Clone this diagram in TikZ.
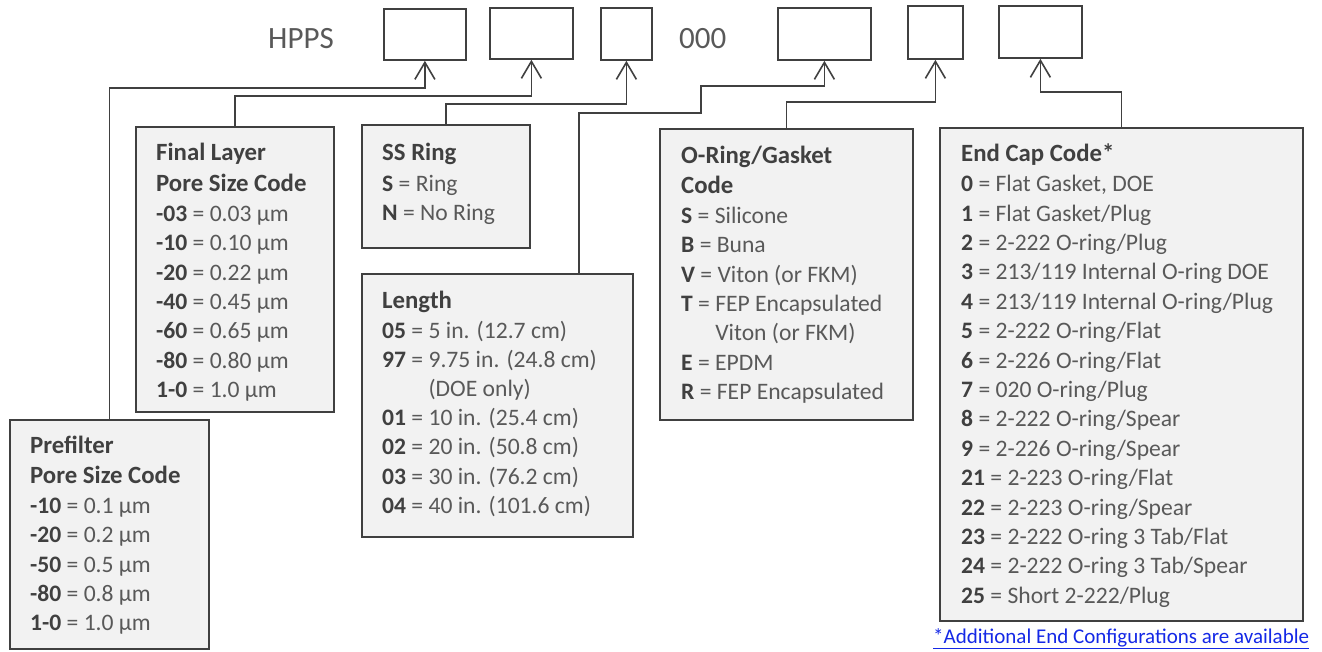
\documentclass[tikz,border=0pt]{standalone}
\usepackage{fontspec}
\setmainfont{Carlito}
\usetikzlibrary{arrows.meta}
\definecolor{linec}{HTML}{404040}
\definecolor{fillc}{HTML}{F2F2F2}
\definecolor{txtc}{HTML}{595959}
\definecolor{codec}{HTML}{404040}
\definecolor{linkc}{RGB}{20,40,230}
\newcommand\ttl[1]{{\fontsize{24.8}{29.4}\selectfont\bfseries\color{codec}#1}}
\newcommand\cd[1]{{\bfseries\color{codec}#1}}
\newcommand\bodyfont{\fontsize{23.6}{29.4}\selectfont}
\begin{document}
\begin{tikzpicture}[x=1pt,y=-1pt,
  codebox/.style={draw=linec, line width=1.8pt, fill=white, inner sep=0pt, anchor=north west},
  infobox/.style={draw=linec, line width=1.6pt, fill=fillc, inner sep=0pt, anchor=north west},
  txt/.style={inner sep=0pt, anchor=base west, text=txtc, font=\bodyfont},
  big/.style={inner sep=0pt, anchor=base west, text=txtc, font=\fontsize{31}{36}\selectfont},
  conn/.style={draw=linec, line width=1.6pt, -{Straight Barb[length=17pt,width=20pt]}}]
\useasboundingbox (0,0) rectangle (1322,651);

% code line
\node[big] (hpps) at (268,48) {HPPS};
\node[big] (zeros) at (679,48) {000};
\node[codebox, minimum width=82, minimum height=51] (b1) at (383,8) {};
\node[codebox, minimum width=83, minimum height=51] (b2) at (489,7) {};
\node[codebox, minimum width=51, minimum height=52] (b3) at (600,7) {};
\node[codebox, minimum width=93, minimum height=52] (b4) at (777,7) {};
\node[codebox, minimum width=55, minimum height=53] (b5) at (907,5) {};
\node[codebox, minimum width=83, minimum height=52] (b6) at (998,5) {};

% info boxes
\node[infobox, minimum width=199, minimum height=229] (pre) at (9,419) {};
\node[infobox, minimum width=198, minimum height=285] (fin) at (135,126) {};
\node[infobox, minimum width=168, minimum height=123] (ss) at (361,124) {};
\node[infobox, minimum width=271, minimum height=263] (len) at (361,273) {};
\node[infobox, minimum width=253, minimum height=291] (oring) at (659,128) {};
\node[infobox, minimum width=363, minimum height=493] (endc) at (939,127) {};

% texts
\node[txt] (pretxt) at (30,453.3) {\parbox[t]{180pt}{\leavevmode
\ttl{Prefilter}\\[0.6pt]
\ttl{Pore Size Code}\\[0.6pt]
\cd{-10} = 0.1 µm\\
\cd{-20} = 0.2 µm\\
\cd{-50} = 0.5 µm\\
\cd{-80} = 0.8 µm\\
\cd{1-0} = 1.0 µm}};

\node[txt] (fintxt) at (156,160.7) {\parbox[t]{180pt}{\leavevmode
\ttl{Final Layer}\\[1.2pt]
\ttl{Pore Size Code}\\[0.6pt]
\cd{-03} = 0.03 µm\\
\cd{-10} = 0.10 µm\\
\cd{-20} = 0.22 µm\\
\cd{-40} = 0.45 µm\\
\cd{-60} = 0.65 µm\\
\cd{-80} = 0.80 µm\\
\cd{1-0} = 1.0 µm}};

\node[txt] (sstxt) at (382,160.7) {\parbox[t]{150pt}{\leavevmode
\ttl{SS Ring}\\[1.2pt]
\cd{S} = Ring\\
\cd{N} = No Ring}};

\node[txt] (lentxt) at (382,308.3) {\parbox[t]{250pt}{\leavevmode
\ttl{Length}\\[0.6pt]
\cd{05} = 5 in. (12.7 cm)\\
\cd{97} = 9.75 in. (24.8 cm)\\[-1pt]
\phantom{\cd{97} = }(DOE only)\\
\cd{01} = 10 in. (25.4 cm)\\
\cd{02} = 20 in. (50.8 cm)\\
\cd{03} = 30 in. (76.2 cm)\\
\cd{04} = 40 in. (101.6 cm)}};

\node[txt] (oringtxt) at (681,163.3) {\parbox[t]{230pt}{\leavevmode
\ttl{O-Ring/Gasket}\\[0.6pt]
\ttl{Code}\\[0.6pt]
\cd{S} = Silicone\\
\cd{B} = Buna\\
\cd{V} = Viton (or FKM)\\
\cd{T} = FEP Encapsulated\\
\phantom{\cd{T} = }Viton (or FKM)\\
\cd{E} = EPDM\\
\cd{R} = FEP Encapsulated}};

\node[txt] (endtxt) at (961,161.7) {\parbox[t]{335pt}{\leavevmode
\ttl{End Cap Code*}\\[0.6pt]
\cd{0} = Flat Gasket, DOE\\
\cd{1} = Flat Gasket/Plug\\
\cd{2} = 2-222 O-ring/Plug\\
\cd{3} = 213/119 Internal O-ring DOE\\
\cd{4} = 213/119 Internal O-ring/Plug\\
\cd{5} = 2-222 O-ring/Flat\\
\cd{6} = 2-226 O-ring/Flat\\
\cd{7} = 020 O-ring/Plug\\
\cd{8} = 2-222 O-ring/Spear\\
\cd{9} = 2-226 O-ring/Spear\\
\cd{21} = 2-223 O-ring/Flat\\
\cd{22} = 2-223 O-ring/Spear\\
\cd{23} = 2-222 O-ring 3 Tab/Flat\\
\cd{24} = 2-222 O-ring 3 Tab/Spear\\
\cd{25} = Short 2-222/Plug}};

\node[inner sep=0pt, anchor=base west, text=linkc, font=\fontsize{21}{25}\selectfont] (link) at (933,643)
  {\underline{*Additional End Configurations are available}};

% connectors
\draw[conn] (pre.north) -- (pre.north |- 0,88) -- (b1.south |- 0,88) -- (b1.south);
\draw[conn] (fin.north) -- (fin.north |- 0,96) -- (b2.south |- 0,96) -- (b2.south);
\draw[conn] (ss.north) -- (ss.north |- 0,104) -- (b3.south |- 0,104) -- (b3.south);
\draw[conn] (len.north -| 579,0) -- (579,113) -- (701,113) -- (701,86) -- (b4.south |- 0,86) -- (b4.south);
\draw[conn] (oring.north) -- (oring.north |- 0,102) -- (b5.south |- 0,102) -- (b5.south);
\draw[conn] (endc.north) -- (endc.north |- 0,92) -- (b6.south |- 0,92) -- (b6.south);
\end{tikzpicture}
\end{document}
